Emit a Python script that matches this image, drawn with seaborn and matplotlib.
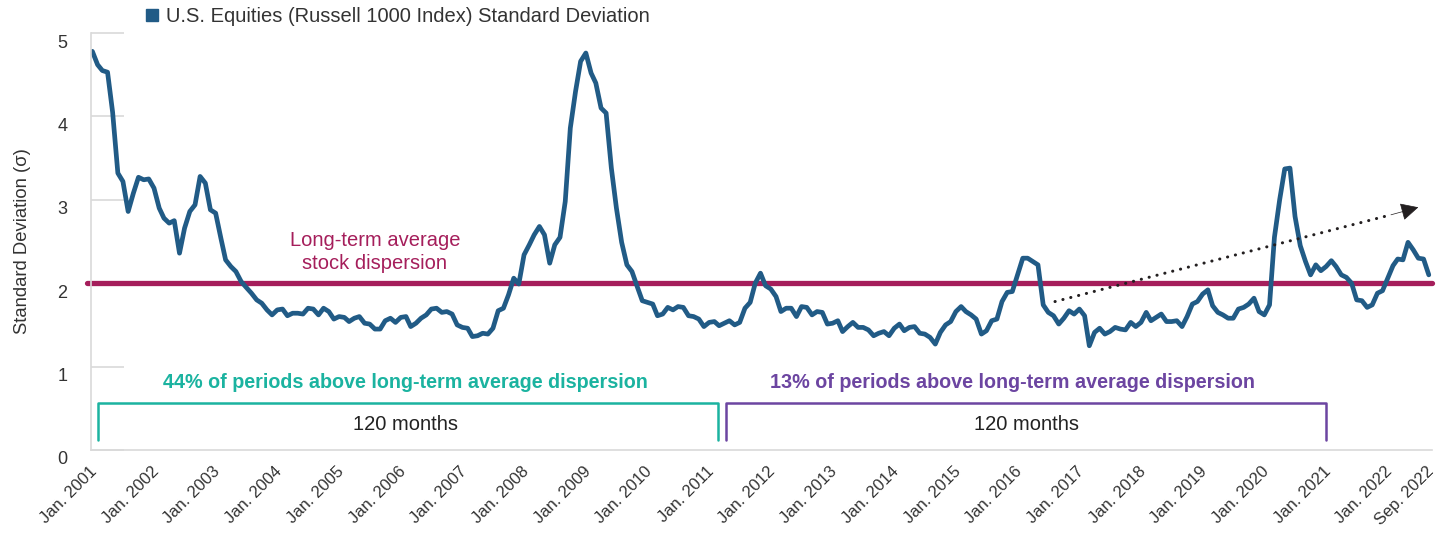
import numpy as np
import pandas as pd
import matplotlib
matplotlib.use("Agg")
import matplotlib.pyplot as plt
import matplotlib.dates as mdates
import matplotlib.transforms as mtransforms
from matplotlib.lines import Line2D
import seaborn as sns

# monthly cross-sectional standard deviation, Jan 2001 - Sep 2022
std_2001_2005 = [
    4.78, 4.62, 4.55, 4.53, 4.05, 3.32, 3.22, 2.86, 3.08, 3.27, 3.24, 3.25,
    3.14, 2.90, 2.78, 2.72, 2.75, 2.36, 2.66, 2.86, 2.94, 3.28, 3.20, 2.88,
    2.84, 2.54, 2.28, 2.20, 2.14, 2.02, 1.95, 1.88, 1.80, 1.76, 1.68, 1.62,
    1.68, 1.69, 1.61, 1.64, 1.64, 1.63, 1.70, 1.69, 1.62, 1.70, 1.66, 1.57,
    1.60, 1.59, 1.54, 1.58, 1.60, 1.52, 1.51, 1.45, 1.45, 1.55, 1.58, 1.53,
]
std_2006_2010 = [
    1.59, 1.60, 1.48, 1.52, 1.58, 1.62, 1.69, 1.70, 1.65, 1.66, 1.63, 1.50,
    1.47, 1.46, 1.36, 1.37, 1.40, 1.39, 1.46, 1.67, 1.70, 1.86, 2.06, 1.99,
    2.34, 2.46, 2.58, 2.68, 2.58, 2.24, 2.46, 2.55, 2.98, 3.86, 4.30, 4.66,
    4.76, 4.52, 4.40, 4.10, 4.04, 3.38, 2.90, 2.49, 2.22, 2.14, 1.96, 1.79,
    1.77, 1.75, 1.61, 1.63, 1.71, 1.68, 1.72, 1.71, 1.61, 1.60, 1.57, 1.48,
]
std_2011_2015 = [
    1.53, 1.54, 1.49, 1.52, 1.55, 1.50, 1.53, 1.70, 1.77, 2.00, 2.12, 1.97,
    1.93, 1.84, 1.66, 1.70, 1.70, 1.60, 1.72, 1.71, 1.62, 1.66, 1.65, 1.51,
    1.52, 1.55, 1.42, 1.48, 1.53, 1.47, 1.47, 1.44, 1.37, 1.40, 1.42, 1.37,
    1.46, 1.51, 1.43, 1.47, 1.48, 1.40, 1.39, 1.35, 1.27, 1.41, 1.50, 1.54,
    1.66, 1.72, 1.66, 1.62, 1.57, 1.39, 1.43, 1.55, 1.57, 1.78, 1.89, 1.90,
]
std_2016_2020 = [
    2.10, 2.30, 2.30, 2.26, 2.22, 1.74, 1.65, 1.61, 1.51, 1.58, 1.67, 1.63,
    1.69, 1.61, 1.25, 1.41, 1.46, 1.39, 1.42, 1.47, 1.45, 1.44, 1.53, 1.48,
    1.53, 1.65, 1.55, 1.59, 1.63, 1.54, 1.54, 1.55, 1.48, 1.60, 1.75, 1.78,
    1.87, 1.92, 1.73, 1.65, 1.62, 1.58, 1.58, 1.69, 1.71, 1.75, 1.82, 1.66,
    1.62, 1.74, 2.55, 3.00, 3.37, 3.38, 2.80, 2.45, 2.26, 2.10, 2.22, 2.15,
]
std_2021_2022 = [
    2.20, 2.27, 2.20, 2.10, 2.07, 2.00, 1.80, 1.79, 1.71, 1.74, 1.88, 1.91,
    2.06, 2.21, 2.29, 2.28, 2.49, 2.40, 2.30, 2.29, 2.10,
]
std_dev = std_2001_2005 + std_2006_2010 + std_2011_2015 + std_2016_2020 + std_2021_2022
months = pd.date_range("2001-01-01", periods=len(std_dev), freq="MS")

long_term_avg = 2.0
tick_dates = list(pd.date_range("2001-01-01", "2022-01-01", freq="YS")) + [pd.Timestamp("2022-09-01")]
tick_labels = [f"Jan. {d.year}" for d in tick_dates[:-1]] + ["Sep. 2022"]

series_name = "U.S. Equities (Russell 1000 Index) Standard Deviation"
line_color = "#215B86"
avg_color = "#A51E5B"
teal = "#1BB3A0"
purple = "#6C45A1"
grey_txt = "#333333"

df = pd.DataFrame({"month": months, "std": std_dev})

sns.set_style("white")
plt.rcParams["font.family"] = ["Liberation Sans", "DejaVu Sans"]

fig = plt.figure(figsize=(14.49, 5.35), dpi=100)
ax = fig.add_axes([91 / 1449, 1 - 450 / 535, (1432 - 91) / 1449, (450 - 33) / 535])

sns.lineplot(data=df, x="month", y="std", ax=ax, color=line_color, linewidth=3.4, legend=False)
ax.axhline(long_term_avg, xmin=-0.003, xmax=1.0, color=avg_color, linewidth=3.8, clip_on=False, zorder=1)

d = mdates.date2num
ax.set_xlim(d(pd.Timestamp("2000-12-24")), d(pd.Timestamp("2022-09-20")))
ax.set_ylim(0, 5)
ax.set_yticks([0, 1, 2, 3, 4, 5])
ax.set_xticks([d(t) for t in tick_dates])
ax.set_xticklabels(tick_labels, rotation=45, ha="right", rotation_mode="anchor")
ax.tick_params(axis="x", length=0, pad=10, labelsize=12, labelcolor=grey_txt)
# short grey stubs inside the axis, as in the original
ax.tick_params(axis="y", left=True, direction="in", length=24, width=1.2, color="#d9d9d9", pad=17,
               labelsize=13, labelcolor=grey_txt)
# y labels sit a little below their stubs, x labels a touch left
y_shift = mtransforms.ScaledTranslation(0, -8 / 100, fig.dpi_scale_trans)
for lab in ax.get_yticklabels():
    lab.set_transform(lab.get_transform() + y_shift)
x_shift = mtransforms.ScaledTranslation(-3 / 100, 0, fig.dpi_scale_trans)
for lab in ax.get_xticklabels():
    lab.set_transform(lab.get_transform() + x_shift)

for s in ["top", "right"]:
    ax.spines[s].set_visible(False)
for s in ["left", "bottom"]:
    ax.spines[s].set_color("#d9d9d9")
    ax.spines[s].set_linewidth(1.2)
ax.set_xlabel("")
ax.set_ylabel("Standard Deviation (σ)", fontsize=13.3, color=grey_txt, labelpad=19)

# annotations
ax.text(d(pd.Timestamp("2005-08-01")), 2.37, "Long-term average\nstock dispersion",
        ha="center", va="center", color=avg_color, fontsize=14.5, linespacing=1.25)

# bracket spans of 120 months
b_top, b_bot = 0.56, 0.12
t1a, t1b = d(pd.Timestamp("2001-02-01")), d(pd.Timestamp("2011-02-20"))
t2a, t2b = d(pd.Timestamp("2011-04-10")), d(pd.Timestamp("2021-01-01"))
ax.plot([t1a, t1a, t1b, t1b], [b_bot, b_top, b_top, b_bot], color=teal, linewidth=1.8)
ax.plot([t2a, t2a, t2b, t2b], [b_bot, b_top, b_top, b_bot], color=purple, linewidth=1.8)
ax.text((t1a + t1b) / 2 - 10, 0.81, "44% of periods above long-term average dispersion",
        ha="center", va="center", color=teal, fontsize=14.2, fontweight="bold")
ax.text((t2a + t2b) / 2 - 80, 0.81, "13% of periods above long-term average dispersion",
        ha="center", va="center", color=purple, fontsize=14.2, fontweight="bold")
ax.text((t1a + t1b) / 2 - 10, 0.30, "120 months", ha="center", va="center", color="#222222", fontsize=14.5)
ax.text((t2a + t2b) / 2 + 5, 0.30, "120 months", ha="center", va="center", color="#222222", fontsize=14.5)

# dotted trend arrow
p0 = (d(pd.Timestamp("2016-08-10")), 1.78)
p1 = (d(pd.Timestamp("2022-01-20")), 2.82)
tip = (d(pd.Timestamp("2022-07-01")), 2.91)
ax.plot([p0[0], p1[0]], [p0[1], p1[1]], color="#231f20", linewidth=2.2,
        linestyle=(0, (0.05, 2.6)), dash_capstyle="round")
ax.annotate("", xy=tip, xytext=p1,
            arrowprops=dict(arrowstyle="-|>", mutation_scale=28, color="#231f20", lw=0.5, shrinkA=0, shrinkB=0))

handle = Line2D([], [], marker="s", linestyle="", color=line_color, markersize=8)
fig.legend([handle], [series_name], loc="center left", bbox_to_anchor=(144 / 1449, 1 - 17 / 535),
           frameon=False, fontsize=14.5, handlelength=0.8, handletextpad=0.3, borderpad=0, borderaxespad=0,
           labelcolor=grey_txt)

fig.savefig("out.png", dpi=100)
